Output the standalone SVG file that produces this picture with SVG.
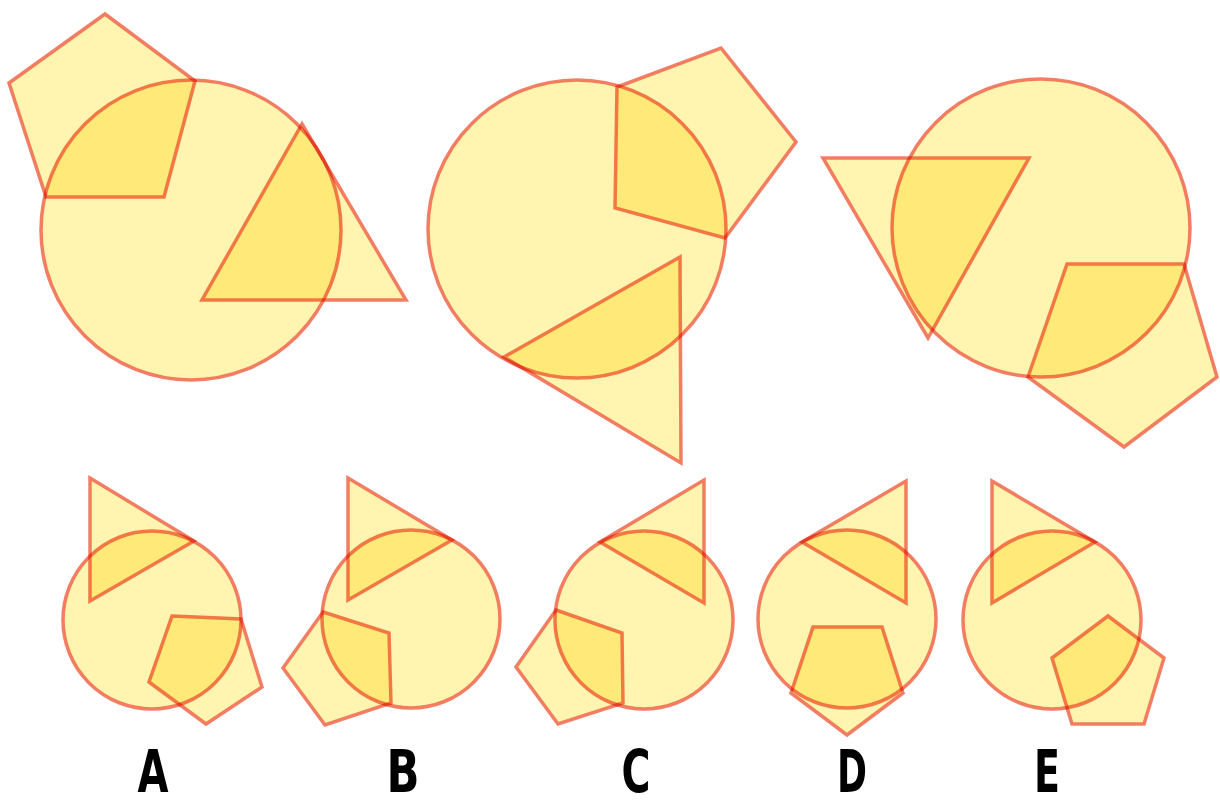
<svg xmlns="http://www.w3.org/2000/svg" width="1220" height="806" viewBox="0 0 1220 806">
<style>
.s{fill:#FFF4B0;stroke:#F0674C;stroke-width:3.5;stroke-linejoin:miter;mix-blend-mode:multiply;stroke-opacity:0.85}
.lbl{font-family:"DejaVu Sans","Liberation Sans",sans-serif;font-weight:bold;font-size:58px;fill:#000;text-anchor:middle}
</style>
<rect x="0" y="0" width="1220" height="806" fill="#FFFFFF"/>
<g id="panel1">
<circle class="s" cx="191" cy="230" r="150"/>
<polygon class="s" points="105,14 195,81 164,197 46,197 9,83"/>
<polygon class="s" points="302,124 406,300 202,300"/>
</g>
<g id="panel2">
<circle class="s" cx="577" cy="229" r="149"/>
<polygon class="s" points="721,48 796,142 725,238 615,208 617,87"/>
<polygon class="s" points="680,257 681,463 504,357"/>
</g>
<g id="panel3">
<circle class="s" cx="1041" cy="228" r="149"/>
<polygon class="s" points="823,158 1029,158 928,338"/>
<polygon class="s" points="1067,264 1184,264 1217,377 1124,447 1028,377"/>
</g>
<g id="optionA">
<circle class="s" cx="152" cy="620" r="89"/>
<polygon class="s" points="90,478 194,541 90,601"/>
<polygon class="s" points="172,616 241,619 262,687 206,724 149,682"/>
<text class="lbl" x="153" y="792" textLength="31" lengthAdjust="spacingAndGlyphs">A</text>
</g>
<g id="optionB">
<circle class="s" cx="411" cy="619" r="89"/>
<polygon class="s" points="348,478 452,540 348,600"/>
<polygon class="s" points="323,612 389,633 391,703 325,725 283,668"/>
<text class="lbl" x="403" y="792" textLength="33" lengthAdjust="spacingAndGlyphs">B</text>
</g>
<g id="optionC">
<circle class="s" cx="644" cy="620" r="89"/>
<polygon class="s" points="704,480 704,603 600,542"/>
<polygon class="s" points="556,610 622,633 623,703 558,724 516,667"/>
<text class="lbl" x="636" y="792" textLength="29" lengthAdjust="spacingAndGlyphs">C</text>
</g>
<g id="optionD">
<circle class="s" cx="847" cy="619" r="89"/>
<polygon class="s" points="906,481 906,603 802,542"/>
<polygon class="s" points="813,627 882,627 903,693 847,735 791,693"/>
<text class="lbl" x="852" y="792" textLength="30" lengthAdjust="spacingAndGlyphs">D</text>
</g>
<g id="optionE">
<circle class="s" cx="1052" cy="620" r="89"/>
<polygon class="s" points="992,481 1095,542 992,603"/>
<polygon class="s" points="1108,616 1164,658 1144,724 1072,724 1052,658"/>
<text class="lbl" x="1047" y="792" textLength="26" lengthAdjust="spacingAndGlyphs">E</text>
</g>
</svg>
